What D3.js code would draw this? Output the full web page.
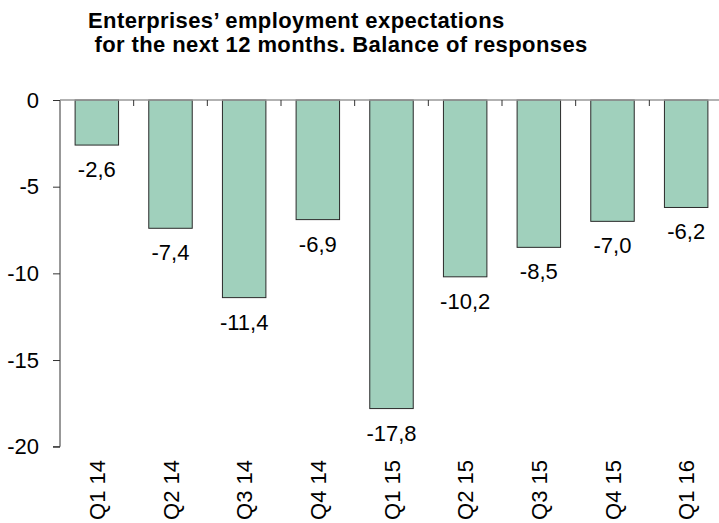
<!DOCTYPE html>
<html><head><meta charset="utf-8">
<script src="https://cdn.jsdelivr.net/npm/d3@7"></script>
<style>body{margin:0;background:#fff}svg{display:block}</style>
</head><body>
<script>
const categories = ["Q1 14","Q2 14","Q3 14","Q4 14","Q1 15","Q2 15","Q3 15","Q4 15","Q1 16"];
const values = [-2.6,-7.4,-11.4,-6.9,-17.8,-10.2,-8.5,-7.0,-6.2];
const yTicks = [0,-5,-10,-15,-20];
const titleLines = ["Enterprises\u2019 employment expectations", " for the next 12 months. Balance of responses"];

const W = 719, H = 523;
const svg = d3.select("body").append("svg").attr("width", W).attr("height", H);
const font = "Arial, 'Liberation Sans', sans-serif";

const x = d3.scaleBand().domain(categories).range([60, 723]).paddingInner(0.41).paddingOuter(0.205);
const y = d3.scaleLinear().domain([-20, 0]).range([446.7, 100]);

// title
svg.append("g").selectAll("text").data(titleLines).join("text")
  .attr("font-family", font).attr("font-weight", "bold").attr("font-size", 22)
  .attr("letter-spacing", 0.4).attr("fill", "#000")
  .attr("x", 88).attr("y", (d, i) => 28 + i * 24).attr("xml:space", "preserve")
  .style("white-space", "pre").text(d => d);

// bars
svg.append("g").selectAll("rect").data(values).join("rect")
  .attr("x", (d, i) => x(categories[i]))
  .attr("y", y(0))
  .attr("width", x.bandwidth())
  .attr("height", d => y(d) - y(0))
  .attr("fill", "#a0d0bc").attr("stroke", "#2a2a2a").attr("stroke-width", 1);

// y axis
const yAxis = d3.axisLeft(y).tickValues(yTicks).tickSize(7).tickPadding(14).tickFormat(d3.format("d"));
const gy = svg.append("g").attr("transform", "translate(60,0)").call(yAxis);
gy.select(".domain").attr("stroke", "#333").attr("d", `M-7,${y(-20)}H0V${y(0)}`);
gy.selectAll(".tick line").attr("stroke", "#333");
gy.selectAll("text").attr("font-family", font).attr("font-size", 22).attr("fill", "#000")
  .text(d => d === 0 ? "0" : "-" + Math.abs(d));

// zero line with category ticks
const xAxis = d3.axisBottom(x).tickSize(0).tickFormat("");
const gx = svg.append("g").attr("transform", `translate(0,${y(0)})`).call(xAxis);
gx.select(".domain").attr("stroke", "#999").attr("stroke-width", 1.5).attr("d", "M60,0H723");
const bounds = categories.slice(1).map(c => x(c) - x.step() * x.paddingInner() / 2);
gx.selectAll(".sep").data(bounds).join("line").attr("class", "sep")
  .attr("x1", d => d).attr("x2", d => d).attr("y1", 0).attr("y2", 6).attr("stroke", "#333");

// category labels
svg.append("g").selectAll("text").data(categories).join("text")
  .attr("transform", d => `translate(${x(d) + x.bandwidth() / 2 + 8},460) rotate(-90)`)
  .attr("text-anchor", "end").attr("font-family", font).attr("font-size", 22).attr("fill", "#000")
  .text(d => d);

// value labels
svg.append("g").selectAll("text").data(values).join("text")
  .attr("x", (d, i) => x(categories[i]) + x.bandwidth() / 2)
  .attr("y", d => y(d) + 32)
  .attr("text-anchor", "middle").attr("font-family", font).attr("font-size", 22).attr("fill", "#000")
  .text(d => d3.format(".1f")(d).replace(".", ",").replace("\u2212", "-"));
</script>
</body></html>
